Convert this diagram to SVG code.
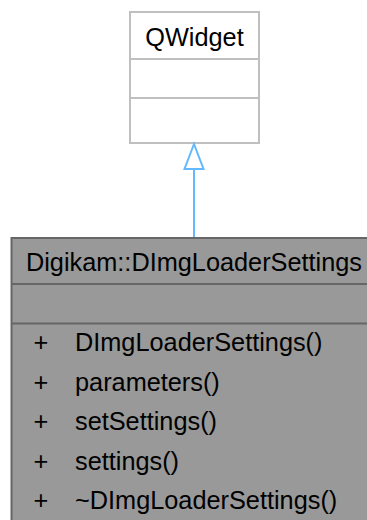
<svg xmlns="http://www.w3.org/2000/svg" width="367" height="520" viewBox="0 0 367 520">
<style>
text{font-family:"Liberation Sans",Arial,sans-serif;font-size:25.3px;fill:#000}
.c{text-anchor:middle}
.base{fill:#fff;stroke:#bfbfbf;stroke-width:2}
.cur{fill:#999;stroke:#666;stroke-width:2}
.edge{stroke:#63b8ff;stroke-width:2;fill:none}
</style>
<rect width="367" height="520" fill="#fff"/>
<g id="node-qwidget">
<rect class="base" x="130" y="12" width="129" height="131"/>
<line class="base" x1="130" y1="59" x2="259" y2="59"/>
<line class="base" x1="130" y1="98" x2="259" y2="98"/>
<text class="c" x="194.5" y="46">QWidget</text>
</g>
<g id="node-dimgloadersettings">
<rect class="cur" x="11.5" y="238" width="370" height="300"/>
<line class="cur" x1="11.5" y1="284" x2="381" y2="284"/>
<line class="cur" x1="11.5" y1="323.5" x2="381" y2="323.5"/>
<text class="c" x="194" y="271">Digikam::DImgLoaderSettings</text>
<text class="c" x="41" y="351">+</text>
<text x="75" y="351">DImgLoaderSettings()</text>
<text class="c" x="41" y="390.5">+</text>
<text x="75" y="390.5">parameters()</text>
<text class="c" x="41" y="430">+</text>
<text x="75" y="430">setSettings()</text>
<text class="c" x="41" y="469.5">+</text>
<text x="75" y="469.5">settings()</text>
<text class="c" x="41" y="509">+</text>
<text x="75" y="509">~DImgLoaderSettings()</text>
</g>
<g id="connectors">
<line class="edge" x1="194" y1="237" x2="194" y2="169"/>
<polygon class="edge" points="194,144 184.5,169 203.5,169"/>
</g>
</svg>
